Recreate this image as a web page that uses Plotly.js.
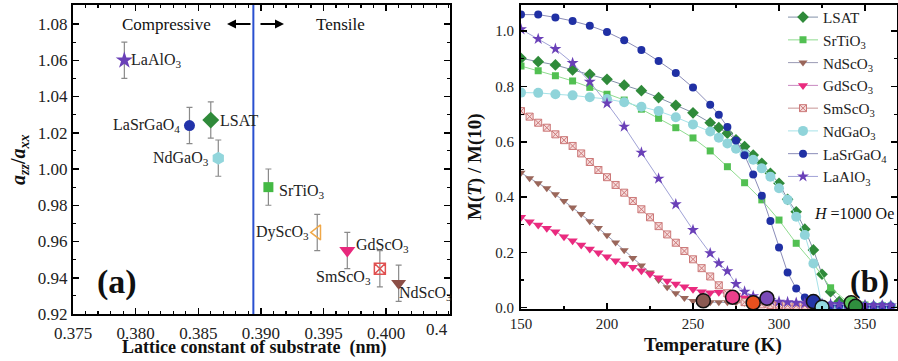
<!DOCTYPE html>
<html><head><meta charset="utf-8">
<script src="https://cdn.plot.ly/plotly-3.0.1.min.js"></script>
<style>html,body{margin:0;padding:0;background:#fff;} #chart{width:898px;height:361px;}</style>
</head><body><div id="chart"></div>
<script>
// ---------- Panel (a) data ----------
const substrateNames = ['LaAlO<sub>3</sub>','LaSrGaO<sub>4</sub>','LSAT','NdGaO<sub>3</sub>','SrTiO<sub>3</sub>','DyScO<sub>3</sub>','GdScO<sub>3</sub>','SmScO<sub>3</sub>','NdScO<sub>3</sub>'];
const latticeConst = [0.3791, 0.3843, 0.3860, 0.3866, 0.3906, 0.3945, 0.3969, 0.3995, 0.4010];
const strainRatio  = [1.060, 1.024, 1.027, 1.006, 0.990, 0.965, 0.955, 0.945, 0.937];
const ratioErr     = [0.010, 0.010, 0.010, 0.010, 0.010, 0.010, 0.010, 0.010, 0.010];
const boundaryLattice = 0.3894;

// ---------- Panel (b) data ----------
const tempMain = [150,160,170,180,190,200,210,220,230,240,250,260,265,270,275,280,285,290,295,300,305,310,315,320,325,330,335,340,345,350,355,360,365];
const mLSAT    = [0.902,0.890,0.878,0.860,0.844,0.826,0.805,0.785,0.760,0.732,0.705,0.669,0.651,0.631,0.607,0.583,0.552,0.522,0.486,0.450,0.392,0.347,0.284,0.209,0.121,0.058,0.022,0.012,0.008,0.006,0.005,0.005,0.005];
const mNdGaO3  = [0.778,0.777,0.772,0.768,0.761,0.755,0.743,0.727,0.711,0.689,0.663,0.637,0.615,0.594,0.575,0.555,0.535,0.504,0.474,0.432,0.390,0.329,0.263,0.160,0.006,0.004,0.004,0.004,0.004,0.004,0.004,0.004,0.004];
const mLaSrGaO4= [1.060,1.060,1.050,1.037,1.020,0.997,0.967,0.932,0.892,0.849,0.796,0.734,0.698,0.654,0.605,0.551,0.482,0.405,0.314,0.218,0.127,0.069,0.037,0.021,0.012,0.009,0.008,0.007,0.006,0.006,0.005,0.005,0.005];
const mLaAlO3  = [1.007,0.972,0.936,0.885,0.817,0.739,0.655,0.561,0.467,0.374,0.281,0.197,0.161,0.132,0.086,0.058,0.042,0.033,0.027,0.022,0.020,0.018,0.016,0.015,0.014,0.013,0.012,0.011,0.010,0.010,0.009,0.009,0.008];

const tempSrTiO3 = [150,160,170,180,190,200,210,220,230,240,250,260,270,280,290,300,310,320,330,340,350,360];
const mSrTiO3    = [0.874,0.857,0.839,0.820,0.797,0.772,0.751,0.718,0.685,0.651,0.614,0.567,0.510,0.452,0.390,0.317,0.233,0.160,0.072,0.020,0.010,0.008];

const tempNdScO3 = [150,155,160,165,170,175,180,185,190,195,200,205,210,215,220,225,230,235,240,245,250,255,260,265,270,275,280];
const mNdScO3    = [0.488,0.468,0.450,0.432,0.410,0.386,0.362,0.339,0.313,0.288,0.262,0.236,0.208,0.180,0.153,0.127,0.100,0.074,0.052,0.035,0.024,0.020,0.020,0.020,0.020,0.019,0.018];

const tempGdScO3 = [150,155,160,165,170,175,180,185,190,195,200,205,210,215,220,225,230,235,240,245,250,255,260,265,270,275,280,285,290,295,300];
const mGdScO3    = [0.327,0.311,0.299,0.287,0.275,0.257,0.242,0.227,0.212,0.199,0.184,0.170,0.158,0.146,0.134,0.122,0.108,0.097,0.086,0.076,0.067,0.058,0.054,0.056,0.050,0.044,0.036,0.030,0.024,0.020,0.016];

const tempSmScO3 = [150,155,160,165,170,175,180,185,190,195,200,205,210,215,220,225,230,235,240,245,250,255,260,265,270,275,280,285,290,295,300,305,310,315,320];
const mSmScO3    = [0.711,0.691,0.669,0.651,0.627,0.606,0.585,0.558,0.527,0.498,0.472,0.444,0.416,0.386,0.356,0.327,0.295,0.265,0.235,0.205,0.175,0.143,0.113,0.081,0.052,0.030,0.020,0.015,0.012,0.010,0.009,0.008,0.007,0.007,0.006];

// Curie temperature markers
const tcTemps = [256, 273, 285, 293, 320, 325, 342, 344.5];
const tcVals  = [0.025, 0.038, 0.018, 0.034, 0.022, 0.002, 0.018, 0.005];
const tcColors = ['#8a5a52','#ec3f8c','#e8501e','#7a4ab8','#2334a6','#92d8e0','#5cc65c','#2f8f3e'];

const serif = "'Liberation Serif', 'Times New Roman', Times, serif";

// ---------- traces ----------
const traces = [];
const aStyle = [
  {symbol:'star', color:'#6a40b8', size:13},
  {symbol:'circle', color:'#2233aa', size:11},
  {symbol:'diamond', color:'#2f8a3a', size:13},
  {symbol:'hexagon', color:'#92d6dc', size:13},
  {symbol:'square', color:'#44b944', size:10},
  {symbol:'triangle-left-open', color:'#f0a848', size:13},
  {symbol:'triangle-down', color:'#e8287c', size:14},
  {symbol:'square-x-open', color:'#e05050', size:11},
  {symbol:'triangle-down', color:'#8c4e46', size:13}
];
for (let i = 0; i < latticeConst.length; i++) {
  traces.push({
    x:[latticeConst[i]], y:[strainRatio[i]], xaxis:'x', yaxis:'y', type:'scatter', mode:'markers',
    showlegend:false, hoverinfo:'skip',
    error_y:{type:'data', array:[ratioErr[i]], color:'#8a8a8a', thickness:1.2, width:3},
    marker:{symbol:aStyle[i].symbol, color:aStyle[i].color, size:aStyle[i].size,
            line:{color:aStyle[i].color, width: aStyle[i].symbol.endsWith('open') ? 1.5 : 0}}
  });
}

function series(name, xs, ys, mcolor, lcolor, symbol, size, mline) {
  return {x:xs, y:ys, name:name, xaxis:'x2', yaxis:'y2', type:'scatter', mode:'lines+markers',
    line:{color:lcolor, width:1}, hoverinfo:'skip',
    marker:{symbol:symbol, color:mcolor, size:size, line:{color: mline || mcolor, width: mline ? 1 : 0}}};
}
traces.push(series('LSAT', tempMain, mLSAT, '#2f8a3a', '#8290a8', 'diamond', 9));
traces.push(series('SrTiO<sub>3</sub>', tempSrTiO3, mSrTiO3, '#52c052', '#8fdc8f', 'square', 7));
traces.push(series('NdScO<sub>3</sub>', tempNdScO3, mNdScO3, '#9a665a', '#9a9ab4', 'triangle-down', 8));
traces.push(series('GdScO<sub>3</sub>', tempGdScO3, mGdScO3, '#ea2a7e', '#c888c0', 'triangle-down', 9));
traces.push(series('SmScO<sub>3</sub>', tempSmScO3, mSmScO3, '#f6dcdc', '#c89494', 'square-x', 7, '#cc7878'));
traces.push(series('NdGaO<sub>3</sub>', tempMain, mNdGaO3, '#90d4da', '#a6e2e8', 'circle', 10));
traces.push(series('LaSrGaO<sub>4</sub>', tempMain, mLaSrGaO4, '#2030a4', '#8a8cb8', 'circle', 8));
traces.push(series('LaAlO<sub>3</sub>', tempMain, mLaAlO3, '#6a40b8', '#a0a2d6', 'star', 9));
traces.push({x:tcTemps, y:tcVals, xaxis:'x2', yaxis:'y2', type:'scatter', mode:'markers', showlegend:false, hoverinfo:'skip',
  marker:{size:14, color:tcColors, line:{color:'#111', width:1.5}}});

// ---------- layout ----------
const W = 898, H = 361;
const px = v => v / W, py = v => 1 - v / H;
const axisCommon = {showline:true, linewidth:2, linecolor:'#000', mirror:'ticks', ticks:'inside', ticklen:6, tickwidth:1.5,
  tickcolor:'#000', showgrid:false, zeroline:false, tickfont:{family:serif, size:17, color:'#222'}};

const annotations = [];
const labelAnchor = ['left','right','left','right','left','right','left','right','left'];
const labelDx = [5, -7, 7, -7, 9, -6, 7, -7, -2];
const labelDy = [0, 0, 0, 0, -4, 0, 5, -9, -10];
for (let i = 0; i < substrateNames.length; i++) {
  annotations.push({xref:'x', yref:'y', x:latticeConst[i], y:strainRatio[i], text:substrateNames[i], showarrow:false,
    xanchor:labelAnchor[i], yanchor:'middle', xshift:labelDx[i], yshift:labelDy[i], font:{family:serif, size:16, color:'#222'}});
}
const txt = (text, x, y, size, extra) => Object.assign({xref:'paper', yref:'paper', x:px(x), y:py(y), text:text, showarrow:false,
  xanchor:'center', yanchor:'middle', font:{family:serif, size:size, color:'#111'}}, extra || {});
annotations.push(txt('Compressive', 166, 24, 17));
annotations.push(txt('Tensile', 340, 24, 17));
annotations.push(txt('<b>(a)</b>', 117, 282, 34));
annotations.push(txt('<b>(b)</b>', 869, 281, 32));
annotations.push(txt('<i>H</i> =1000 Oe', 812, 213, 16, {xanchor:'left'}));
annotations.push(txt('0.4', 450, 329, 17, {xanchor:'right', font:{family:serif, size:17, color:'#222'}}));
annotations.push(txt('<b>Lattice constant of substrate  (nm)</b>', 254, 347, 18));
annotations.push(txt('<b><i>a</i><sub><i>zz</i></sub>/<i>a</i><sub><i>xx</i></sub></b>', 19, 160, 20, {textangle:-90}));
annotations.push(txt('<b>Temperature (K)</b>', 713, 345, 19));
annotations.push(txt('<b>M(<i>T</i>) / M(10)</b>', 475, 167, 19, {textangle:-90}));
annotations.push({xref:'paper', yref:'paper', x:px(227), y:py(24), ax:25, ay:0, text:'', showarrow:true,
  arrowhead:2, arrowsize:0.9, arrowwidth:2, arrowcolor:'#000'});
annotations.push({xref:'paper', yref:'paper', x:px(284), y:py(24), ax:-25, ay:0, text:'', showarrow:true,
  arrowhead:2, arrowsize:0.9, arrowwidth:2, arrowcolor:'#000'});

const layout = {
  width:W, height:H, margin:{l:0, r:0, t:0, b:0, autoexpand:false},
  paper_bgcolor:'#fff', plot_bgcolor:'#fff', font:{family:serif},
  xaxis: Object.assign({}, axisCommon, {domain:[px(73), px(450)], range:[0.375, 0.4051], tickvals:[0.375,0.380,0.385,0.390,0.395,0.400],
    tickformat:'.3f', ticklabelstandoff:3, minor:{ticks:'inside', ticklen:3, dtick:0.001, tickcolor:'#000', tickwidth:1.2}, anchor:'y'}),
  yaxis: Object.assign({}, axisCommon, {domain:[py(314), py(5)], range:[0.92, 1.0905], dtick:0.02, tickformat:'.2f',
    minor:{ticks:'inside', ticklen:3, dtick:0.01, tickcolor:'#000', tickwidth:1.2}, anchor:'x'}),
  xaxis2: Object.assign({}, axisCommon, {domain:[px(521), px(897)], range:[150, 368.6], dtick:50,
    tickfont:{family:serif, size:15, color:'#222'},
    minor:{ticks:'inside', ticklen:3, dtick:25, tickcolor:'#000', tickwidth:1.2}, anchor:'y2'}),
  yaxis2: Object.assign({}, axisCommon, {domain:[py(309), py(5)], range:[-0.0047, 1.0948], dtick:0.2, tickformat:'.1f',
    tickfont:{family:serif, size:15, color:'#222'}, ticklabelstandoff:2,
    minor:{ticks:'inside', ticklen:3, dtick:0.1, tickcolor:'#000', tickwidth:1.2}, anchor:'x2'}),
  shapes:[{type:'line', xref:'x', yref:'y domain', x0:boundaryLattice, x1:boundaryLattice, y0:0, y1:1,
    line:{color:'#2a50d0', width:2}}],
  legend:{x:px(783), y:0.998, xanchor:'left', yanchor:'top', bgcolor:'rgba(0,0,0,0)', borderwidth:0,
    font:{family:serif, size:15.2, color:'#222'}, tracegroupgap:0},
  annotations:annotations
};
Plotly.newPlot('chart', traces, layout, {staticPlot:true, displayModeBar:false});
</script></body></html>
